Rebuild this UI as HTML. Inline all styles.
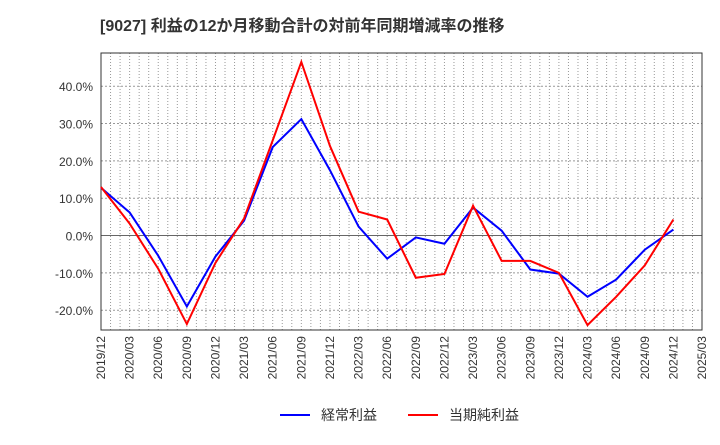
<!DOCTYPE html>
<html><head><meta charset="utf-8"><style>
body{margin:0;background:#fff;font-family:"Liberation Sans","Noto Sans CJK JP",sans-serif;}
</style></head><body>
<svg id="chart" width="720" height="440" xmlns="http://www.w3.org/2000/svg" font-family="Liberation Sans, Noto Sans CJK JP, sans-serif"></svg>
<script>
const categories=["2019/12","2020/03","2020/06","2020/09","2020/12","2021/03","2021/06","2021/09","2021/12","2022/03","2022/06","2022/09","2022/12","2023/03","2023/06","2023/09","2023/12","2024/03","2024/06","2024/09","2024/12","2025/03"];
const ordinaryProfit=[12.8,6.2,-5.4,-19,-5.6,4,23.7,31.2,17.5,2.4,-6.2,-0.5,-2.2,7.5,1.3,-9.1,-10.2,-16.4,-11.8,-3.8,1.6];
const netProfit=[13,3.2,-8.9,-23.7,-7.3,4.6,25.5,46.5,24,6.4,4.3,-11.3,-10.3,8,-6.8,-6.8,-10,-24,-16.4,-8,4.3];
const yTicks=[-20,-10,0,10,20,30,40];
const NS="http://www.w3.org/2000/svg";
const svg=document.getElementById('chart');
const L=101,R=702,T=53,B=330;
const yMin=-25.3,yMax=48.9;
const months=63;
function xm(m){return L+(R-L)*m/months;}
function xq(i){return xm(i*3);}
function y(v){return B-(v-yMin)/(yMax-yMin)*(B-T);}
function mk(tag,attrs,name){const e=document.createElementNS(NS,tag);for(const k in attrs)e.setAttribute(k,attrs[k]);


svg.appendChild(e);return e;}
mk('text',{x:100,y:31,'font-size':16,'font-weight':'bold',fill:'#333'},'chart-title').textContent="[9027]  利益の12か月移動合計の対前年同期増減率の推移";
for(let m=1;m<months;m++){mk('line',{x1:xm(m),x2:xm(m),y1:T,y2:B,stroke:'#999','stroke-width':1,'stroke-dasharray':'1,2'},'v-grid');}
yTicks.forEach(v=>{mk('line',{x1:L,x2:R,y1:y(v),y2:y(v),stroke:v===0?'#666':'#999','stroke-width':1,'stroke-dasharray':v===0?'none':'2,2'},'h-grid');
const t=mk('text',{x:L-8,y:y(v)+5,'font-size':12,fill:'#333','text-anchor':'end'},'y-tick-label');t.textContent=v.toFixed(1)+'%';});
mk('rect',{x:L,y:T,width:R-L,height:B-T,fill:'none',stroke:'#333','stroke-width':1},'plot-border');
categories.forEach((c,i)=>{const px=xq(i);const t=mk('text',{x:px+4,y:B+6,'font-size':12,fill:'#333','text-anchor':'end',transform:`rotate(-90 ${px+4} ${B+6})`},'x-tick-label');t.textContent=c;});
function line(data,color,name){mk('polyline',{points:data.map((v,i)=>xq(i)+','+y(v)).join(' '),fill:'none',stroke:color,'stroke-width':2},name);}
line(ordinaryProfit,'#0000ff','ordinary-profit-line');
line(netProfit,'#ff0000','net-profit-line');
mk('line',{x1:280,x2:310,y1:415,y2:415,stroke:'#0000ff','stroke-width':2},'legend-ordinary-swatch');
mk('text',{x:321,y:420,'font-size':14,fill:'#333'},'legend-ordinary-label').textContent='経常利益';
mk('line',{x1:408,x2:438,y1:415,y2:415,stroke:'#ff0000','stroke-width':2},'legend-net-swatch');
mk('text',{x:449,y:420,'font-size':14,fill:'#333'},'legend-net-label').textContent='当期純利益';
</script>
</body></html>
